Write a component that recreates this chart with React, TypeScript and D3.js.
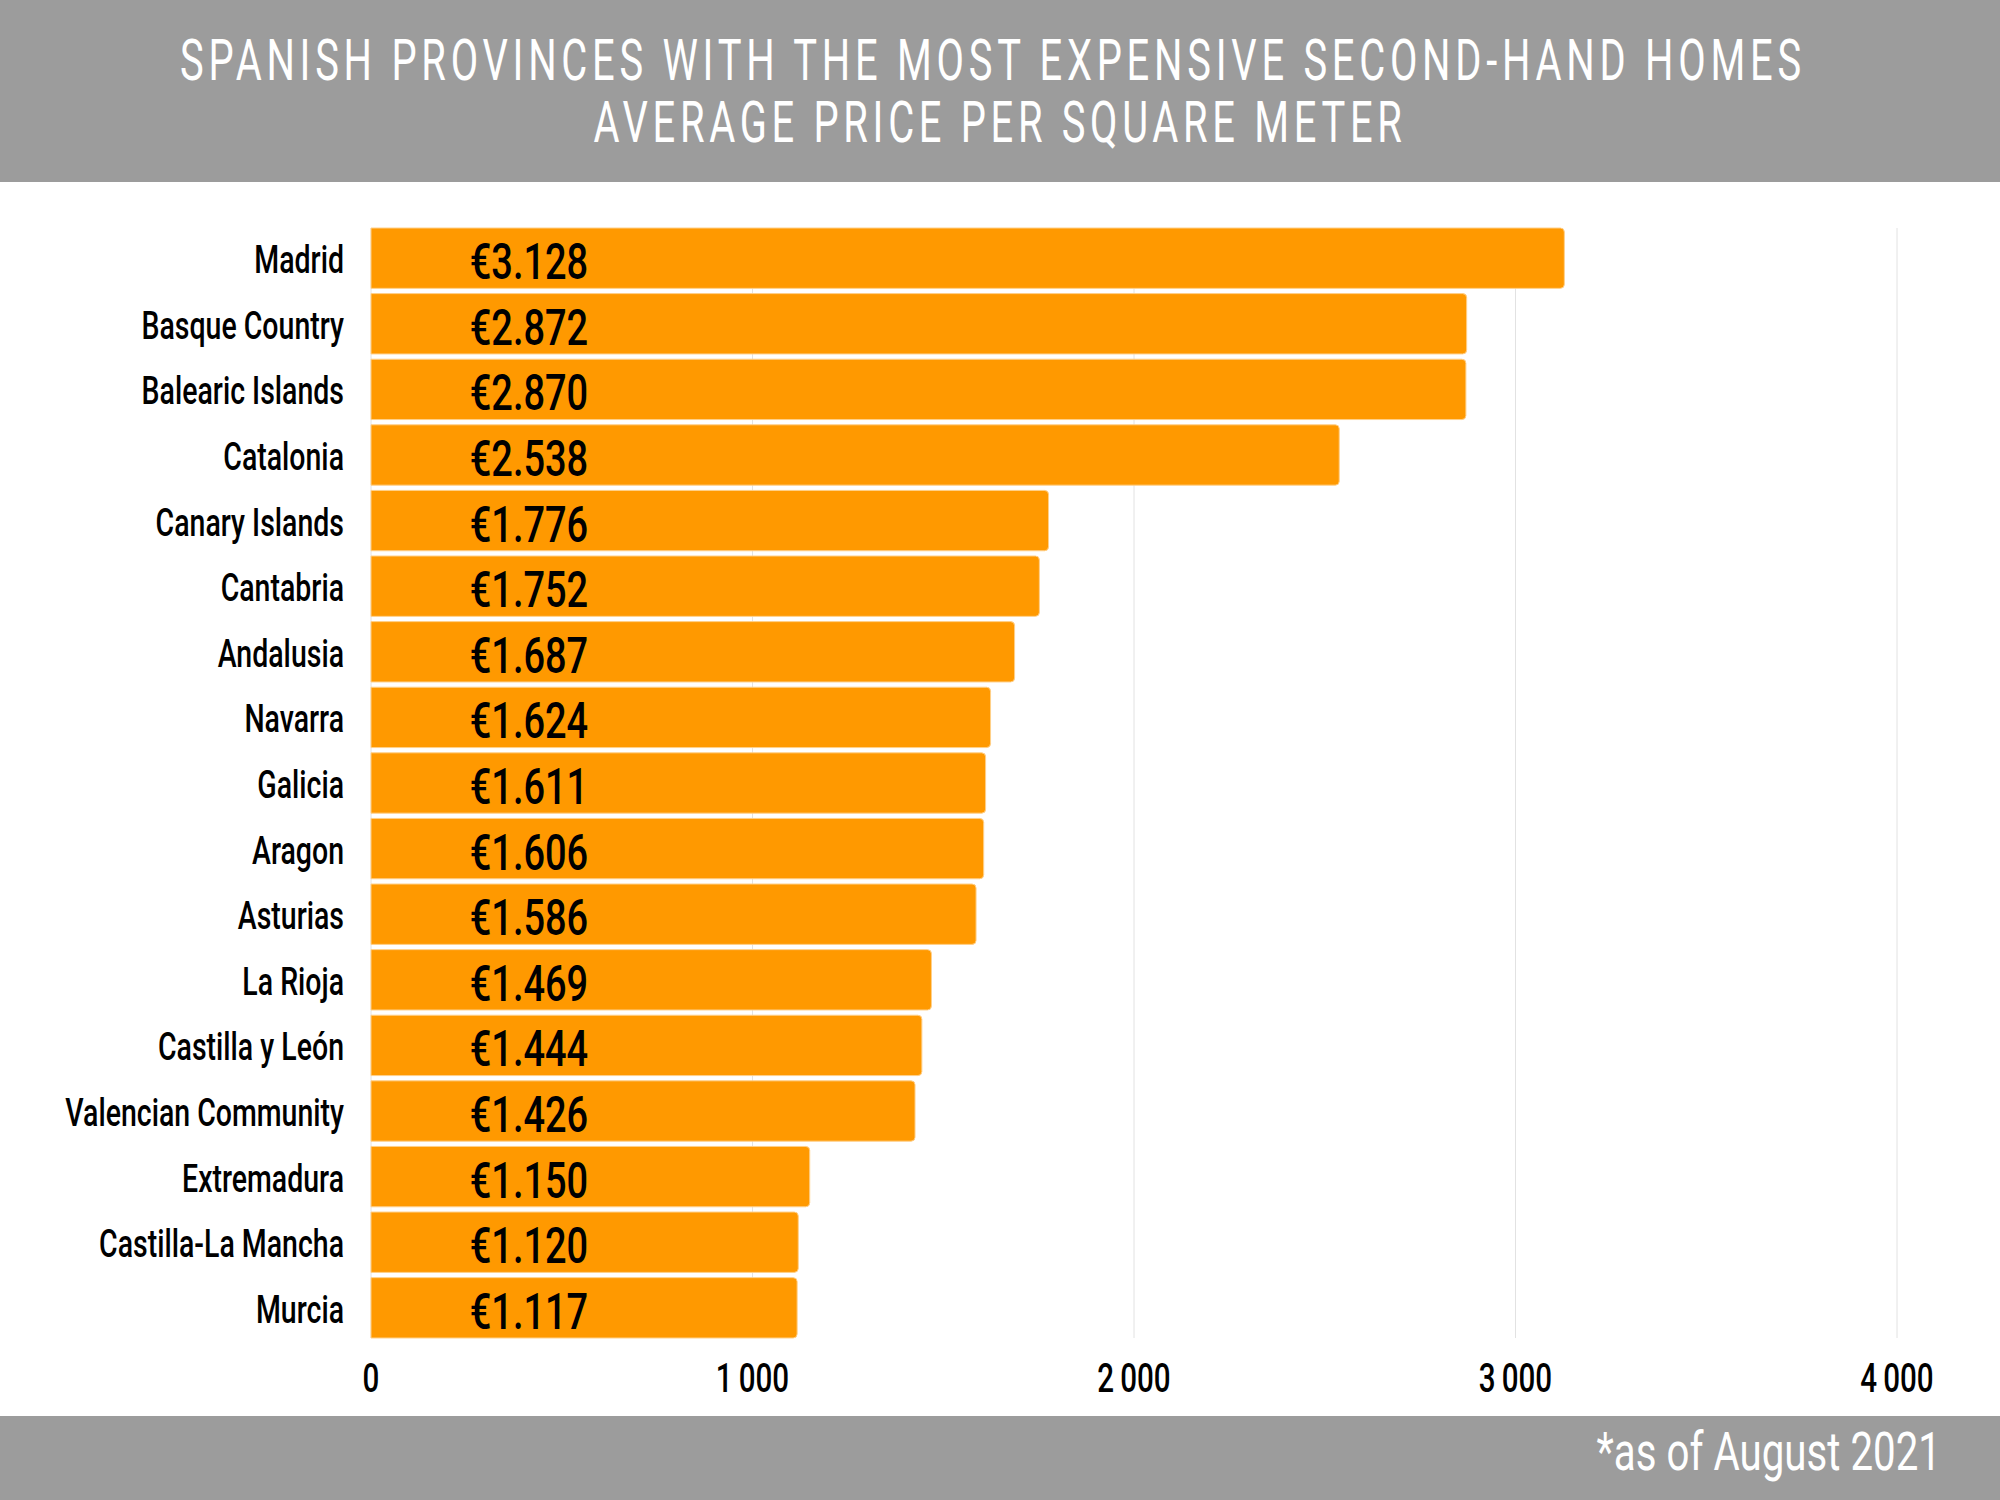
import React from "react";
import * as d3 from "d3";

const categories = [
  "Madrid",
  "Basque Country",
  "Balearic Islands",
  "Catalonia",
  "Canary Islands",
  "Cantabria",
  "Andalusia",
  "Navarra",
  "Galicia",
  "Aragon",
  "Asturias",
  "La Rioja",
  "Castilla y León",
  "Valencian Community",
  "Extremadura",
  "Castilla-La Mancha",
  "Murcia",
];
const values = [3128, 2872, 2870, 2538, 1776, 1752, 1687, 1624, 1611, 1606, 1586, 1469, 1444, 1426, 1150, 1120, 1117];
const xTicks = [0, 1000, 2000, 3000, 4000];
const titleLines = [
  "SPANISH PROVINCES WITH THE MOST EXPENSIVE SECOND-HAND HOMES",
  "AVERAGE PRICE PER SQUARE METER",
];
const footnote = "*as of August 2021";

const W = 2000;
const H = 1500;
const FONT = "Roboto, 'Liberation Sans', 'DejaVu Sans', sans-serif";
const GRAY = "#9c9c9c";
const ORANGE = "#ff9900";

const tickFmt = d3.formatLocale({ decimal: ",", thousands: "\u2009", grouping: [3], currency: ["€", ""] }).format(",");
const valueFmt = d3.formatLocale({ decimal: ",", thousands: ".", grouping: [3], currency: ["€", ""] }).format("$,");

function barPath(x0: number, y0: number, w: number, h: number, r: number) {
  const p = d3.path();
  p.moveTo(x0, y0);
  p.lineTo(x0 + w - r, y0);
  p.arcTo(x0 + w, y0, x0 + w, y0 + r, r);
  p.lineTo(x0 + w, y0 + h - r);
  p.arcTo(x0 + w, y0 + h, x0 + w - r, y0 + h, r);
  p.lineTo(x0, y0 + h);
  p.closePath();
  return p.toString();
}

type CTextProps = {
  x: number;
  y: number;
  sx: number;
  size: number;
  anchor: "start" | "middle" | "end";
  fill: string;
  weight?: number;
  letterSpacing?: number;
  length?: number;
  children: React.ReactNode;
};

function CText({ x, y, sx, size, anchor, fill, weight = 400, letterSpacing, length, children }: CTextProps) {
  const extra: Record<string, unknown> = {};
  if (length) {
    extra.textLength = length / sx;
    extra.lengthAdjust = "spacing";
  }
  return (
    <text
      transform={`translate(${x},${y}) scale(${sx},1)`}
      textAnchor={anchor}
      fontSize={size}
      fontWeight={weight}
      fill={fill}
      letterSpacing={letterSpacing}
      {...extra}
    >
      {children}
    </text>
  );
}

export default function App() {
  const x = d3.scaleLinear().domain([0, 4000]).range([371, 1897]);
  const y = d3.scaleBand<string>().domain(categories).range([228, 1338]).paddingInner(0.08).paddingOuter(0);
  const bw = y.bandwidth();
  const labelX = x(414);

  return (
    <svg
      width={W}
      height={H}
      viewBox={`0 0 ${W} ${H}`}
      style={{ position: "absolute", left: 0, top: 0, background: "#fff" }}
      fontFamily={FONT}
    >
      <rect x={0} y={0} width={W} height={182} fill={GRAY} />
      <rect x={0} y={1416} width={W} height={84} fill={GRAY} />
      <CText x={993} y={80} sx={0.7} size={57} anchor="middle" fill="#fff" letterSpacing={7} length={1626}>
        {titleLines[0]}
      </CText>
      <CText x={1000} y={142} sx={0.7} size={57} anchor="middle" fill="#fff" letterSpacing={6.5} length={813}>
        {titleLines[1]}
      </CText>

      {xTicks.map((t) => (
        <g key={t}>
          <line x1={x(t)} x2={x(t)} y1={228} y2={1338} stroke="#e2e2e2" strokeWidth={1} />
          <CText x={x(t)} y={1392} sx={0.74} size={40} anchor="middle" fill="#000" weight={500}>
            {tickFmt(t)}
          </CText>
        </g>
      ))}

      {categories.map((c, i) => {
        const yy = y(c) as number;
        return (
          <g key={c}>
            <path
              d={barPath(x(0), yy, x(values[i]) - x(0), bw, 4)}
              fill={ORANGE}
              stroke="#ffd08a"
              strokeWidth={1}
            />
            <CText x={344} y={yy + bw / 2 + 15} sx={0.74} size={38.5} anchor="end" fill="#000" weight={500}>
              {c}
            </CText>
            <CText x={labelX} y={yy + bw / 2 + 21} sx={0.76} size={50} anchor="middle" fill="#000" weight={500}>
              {valueFmt(values[i])}
            </CText>
          </g>
        );
      })}

      <CText x={1941} y={1470} sx={0.76} size={53} anchor="end" fill="#fff" weight={400}>
        {footnote}
      </CText>
    </svg>
  );
}
